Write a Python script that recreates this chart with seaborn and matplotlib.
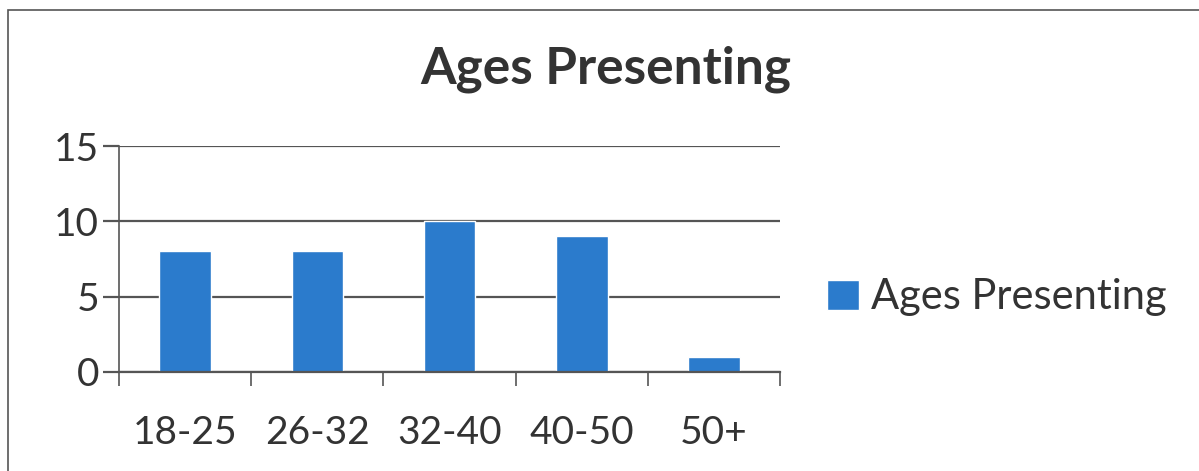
import seaborn as sns
import pandas as pd
from matplotlib import pyplot as plt
from matplotlib.patches import Rectangle

age_groups = ["18-25", "26-32", "32-40", "40-50", "50+"]
counts = [8, 8, 10, 9, 1]
series_name = "Ages Presenting"
y_ticks = [0, 5, 10, 15]

bar_color = "#2b7bcc"
grid_color = "#555555"
text_color = "#333333"

sns.set_theme(style="white")
plt.rcParams["font.family"] = ["Lato", "DejaVu Sans"]

df = pd.DataFrame({"age": age_groups, "count": counts})

fig = plt.figure(figsize=(11.99, 4.71), dpi=100)
ax = fig.add_axes([0.0993, 0.2102, 0.5513, 0.4798])

sns.barplot(data=df, x="age", y="count", color=bar_color, width=0.39,
            saturation=1, ax=ax, label=series_name)

ax.set_xlim(-0.5, len(age_groups) - 0.5)
ax.set_ylim(0, 15)
ax.set_yticks(y_ticks)
ax.yaxis.grid(True, color=grid_color, linewidth=1.6)
ax.set_axisbelow(True)
ax.set_xlabel("")
ax.set_ylabel("")

for s in ["top", "right"]:
    ax.spines[s].set_visible(False)
ax.spines["left"].set_color(grid_color)
ax.spines["left"].set_linewidth(1.2)
ax.spines["bottom"].set_color(grid_color)
ax.spines["bottom"].set_linewidth(1.6)

ax.set_xticks(range(len(age_groups)))
ax.set_xticklabels(age_groups)
ax.set_xticks([i - 0.5 for i in range(len(age_groups) + 1)], minor=True)
ax.tick_params(axis="x", which="major", length=0, pad=31, labelsize=28, labelcolor=text_color)
ax.tick_params(axis="x", which="minor", length=10, width=1.2, color=grid_color, bottom=True)
ax.tick_params(axis="y", length=11.5, width=1.6, color=grid_color, left=True, pad=3,
               labelsize=28, labelcolor=text_color)

fig.text(0.505, 0.852, series_name, ha="center", va="center", fontsize=37,
         fontweight="bold", color=text_color)

leg = ax.legend(loc="center left", bbox_to_anchor=(1.015, 0.33), frameon=False,
                fontsize=30, handlelength=0.75, handleheight=0.75, handletextpad=0.3,
                labelcolor=text_color)

fig.patches.append(Rectangle((0.007, -0.1), 1.1, 0.1 + 0.979, transform=fig.transFigure,
                             fill=False, edgecolor="#555555", linewidth=1.2))

fig.savefig("out.png", dpi=100)
